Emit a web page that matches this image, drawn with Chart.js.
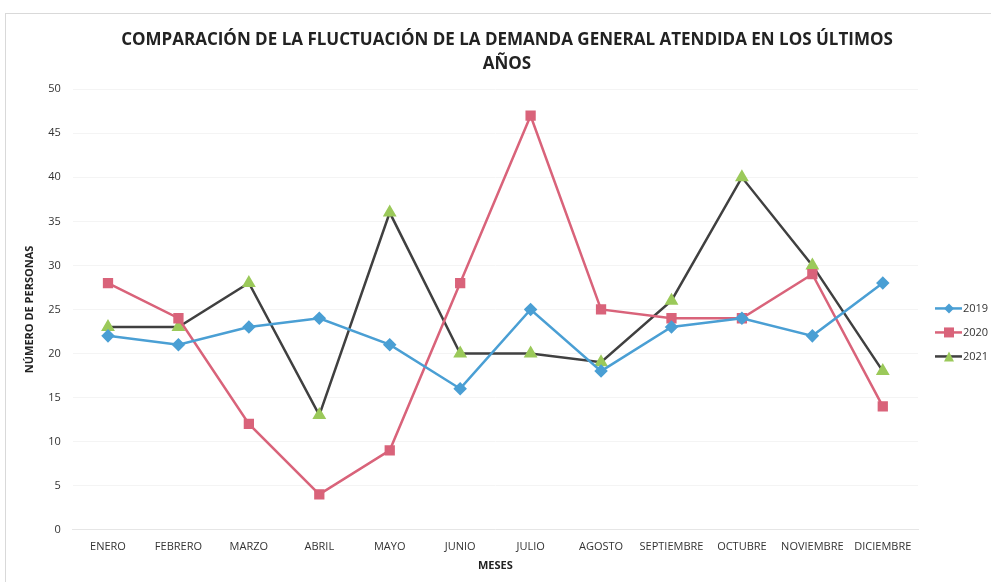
<!DOCTYPE html>
<html>
<head>
<meta charset="utf-8">
<script src="https://cdn.jsdelivr.net/npm/chart.js@4.4.1/dist/chart.umd.min.js"></script>
<style>
  html, body { margin: 0; padding: 0; background: #fff; }
  #wrap { width: 991px; height: 582px; position: relative; }
  #frame { position: absolute; left: 5px; top: 13px; width: 990px; height: 570px; border: 1px solid #d9d9d9; box-sizing: border-box; }
</style>
</head>
<body>
<div id="wrap">
  <div id="frame"></div>
  <canvas id="chart" width="991" height="582"></canvas>
</div>
<script>
var meses = ["ENERO", "FEBRERO", "MARZO", "ABRIL", "MAYO", "JUNIO", "JULIO", "AGOSTO", "SEPTIEMBRE", "OCTUBRE", "NOVIEMBRE", "DICIEMBRE"];
var datos2019 = [22, 21, 23, 24, 21, 16, 25, 18, 23, 24, 22, 28];
var datos2020 = [28, 24, 12, 4, 9, 28, 47, 25, 24, 24, 29, 14];
var datos2021 = [23, 23, 28, 13, 36, 20, 20, 19, 26, 40, 30, 18];

var azul = "#4a9fd4";
var rojo = "#d9637a";
var gris = "#404040";
var verde = "#9bc95a";

// leyenda a la derecha: linea corta con el marcador en medio
var leyenda = {
  id: "leyenda",
  afterDraw: function (chart) {
    var ctx = chart.ctx;
    var area = chart.chartArea;
    var x0 = area.right + 17;
    var y0 = (area.top + area.bottom) / 2 - 1;
    ctx.save();
    ctx.font = "11px 'Open Sans', sans-serif";
    ctx.textBaseline = "middle";
    chart.data.datasets.forEach(function (ds, i) {
      var y = y0 + i * 24;
      ctx.strokeStyle = ds.borderColor;
      ctx.lineWidth = 2.5;
      ctx.beginPath(); ctx.moveTo(x0, y); ctx.lineTo(x0 + 27, y); ctx.stroke();
      ctx.fillStyle = ds.pointBackgroundColor || ds.backgroundColor;
      var cx = x0 + 14;
      ctx.beginPath();
      if (ds.pointStyle == "rectRot") {
        ctx.moveTo(cx, y - 5); ctx.lineTo(cx + 5, y); ctx.lineTo(cx, y + 5); ctx.lineTo(cx - 5, y);
      } else if (ds.pointStyle == "rect") {
        ctx.rect(cx - 5, y - 5, 10, 10);
      } else {
        ctx.moveTo(cx, y - 5); ctx.lineTo(cx + 5, y + 5); ctx.lineTo(cx - 5, y + 5);
      }
      ctx.closePath(); ctx.fill();
      ctx.fillStyle = "#333";
      ctx.fillText(ds.label, x0 + 28, y);
    });
    ctx.restore();
  }
};

new Chart(document.getElementById("chart"), {
  type: "line",
  data: {
    labels: meses,
    datasets: [{
      label: "2019",
      data: datos2019,
      borderColor: azul,
      backgroundColor: azul,
      pointStyle: "rectRot",
      pointRadius: 5,
      borderWidth: 2.5
    }, {
      label: "2020",
      data: datos2020,
      borderColor: rojo,
      backgroundColor: rojo,
      pointStyle: "rect",
      pointRadius: 5.5,
      borderWidth: 2.5
    }, {
      label: "2021",
      data: datos2021,
      borderColor: gris,
      backgroundColor: verde,
      pointBackgroundColor: verde,
      pointBorderColor: verde,
      pointStyle: "triangle",
      pointRadius: 5.5,
      borderWidth: 2.5
    }]
  },
  options: {
    responsive: false,
    animation: false,
    layout: { padding: { left: 23, right: 0, top: 12, bottom: 6 } },
    plugins: {
      title: {
        display: true,
        text: ["COMPARACIÓN DE LA FLUCTUACIÓN DE LA DEMANDA GENERAL ATENDIDA EN LOS ÚLTIMOS", "AÑOS"],
        color: "#222",
        font: { family: "'Open Sans', sans-serif", size: 17, weight: "bold", lineHeight: 1.42 },
        padding: { top: 16, bottom: 13 }
      },
      legend: { display: false },
      tooltip: { enabled: false }
    },
    scales: {
      x: {
        offset: true,
        grid: { display: false },
        border: { color: "#e6e6e6" },
        ticks: { color: "#333", font: { family: "'Open Sans', sans-serif", size: 11 }, maxRotation: 0, autoSkip: false },
        title: { display: true, text: "MESES", color: "#222", font: { family: "'Open Sans', sans-serif", size: 11, weight: "bold" }, padding: { top: 2 } }
      },
      y: {
        min: 0,
        max: 50,
        ticks: { stepSize: 5, color: "#333", font: { family: "'Open Sans', sans-serif", size: 11 }, padding: 12 },
        grid: { color: "#f4f4f4", drawTicks: false },
        border: { display: false },
        title: { display: true, text: "NÚMERO DE PERSONAS", color: "#222", font: { family: "'Open Sans', sans-serif", size: 11, weight: "bold" }, padding: 0 }
      },
      // eje vacio a la derecha: deja sitio para la leyenda
      hueco: {
        position: "right",
        min: 0,
        max: 50,
        ticks: { display: false },
        grid: { display: false },
        border: { display: false },
        afterFit: function (scale) { scale.width = 73; }
      }
    }
  },
  plugins: [leyenda]
});
</script>
</body>
</html>
